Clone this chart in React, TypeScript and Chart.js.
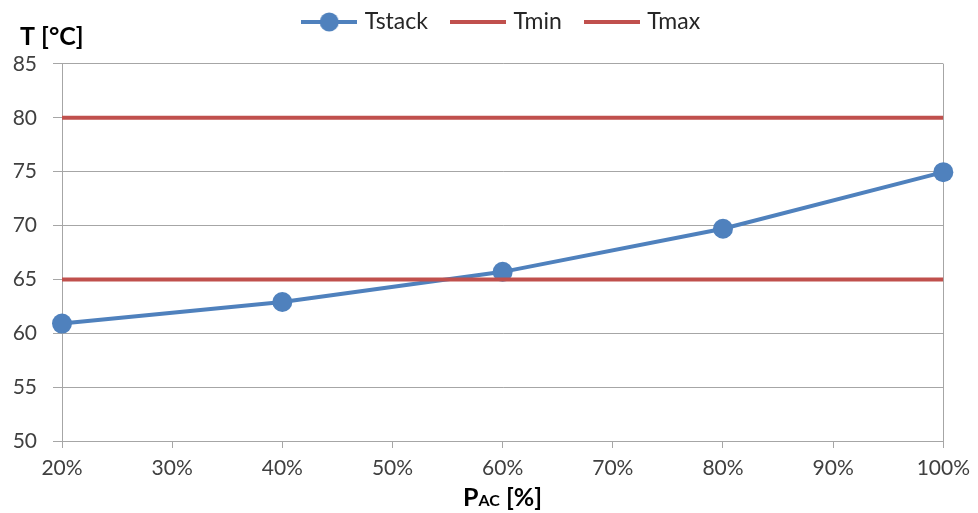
import React, { useEffect, useRef } from 'react';
import { Chart, registerables } from 'chart.js';

Chart.register(...registerables);

// ---- data ----
const loadPercent = [20, 40, 60, 80, 100];
const tstackValues = [60.9, 62.9, 65.7, 69.7, 74.95];
const tminValue = 65;
const tmaxValue = 80;
const xLimits = [20, 100];
const yLimits = [50, 85];
const seriesNames = ['Tstack', 'Tmin', 'Tmax'];
const yTitle = 'T [°C]';
const xTitleParts = ['P', 'AC', ' [%]'];

const BLUE = '#4F81BD';
const RED = '#C0504D';
const GRID = '#A6A6A6';
const FONT = 'Lato, "Open Sans", sans-serif';

function legendImage(color: string, dot: boolean) {
  const c = document.createElement('canvas');
  c.width = 56;
  c.height = 22;
  const ctx = c.getContext('2d')!;
  ctx.strokeStyle = color;
  ctx.lineWidth = 4;
  ctx.beginPath();
  ctx.moveTo(0, 11);
  ctx.lineTo(56, 11);
  ctx.stroke();
  if (dot) {
    ctx.fillStyle = color;
    ctx.beginPath();
    ctx.arc(28, 11, 9.5, 0, Math.PI * 2);
    ctx.fill();
  }
  return c;
}

const titlesPlugin = {
  id: 'titlesPlugin',
  afterDraw(chart: any) {
    const ctx = chart.ctx;
    const a = chart.chartArea;
    ctx.save();
    ctx.fillStyle = '#000';
    ctx.textBaseline = 'alphabetic';
    ctx.textAlign = 'left';
    ctx.font = `bold 25px ${FONT}`;
    ctx.fillText(yTitle, 20, 45);

    const big = `bold 25px ${FONT}`;
    const small = `bold 16px ${FONT}`;
    ctx.font = big;
    const w0 = ctx.measureText(xTitleParts[0]).width;
    const w2 = ctx.measureText(xTitleParts[2]).width;
    ctx.font = small;
    const w1 = ctx.measureText(xTitleParts[1]).width;
    const total = w0 + w1 + w2;
    let x = (a.left + a.right) / 2 - total / 2;
    const y = 506;
    ctx.font = big;
    ctx.fillText(xTitleParts[0], x, y);
    x += w0;
    ctx.font = small;
    ctx.fillText(xTitleParts[1], x, y);
    x += w1;
    ctx.font = big;
    ctx.fillText(xTitleParts[2], x, y);
    ctx.restore();
  },
};

export default function App() {
  const ref = useRef<HTMLCanvasElement | null>(null);

  useEffect(() => {
    if (!ref.current) return;
    const images = [legendImage(BLUE, true), legendImage(RED, false), legendImage(RED, false)];
    const chart = new Chart(ref.current, {
      type: 'line',
      data: {
        datasets: [
          {
            label: seriesNames[0],
            data: loadPercent.map((x, i) => ({ x, y: tstackValues[i] })),
            borderColor: BLUE,
            backgroundColor: BLUE,
            borderWidth: 4,
            pointRadius: 10,
            pointHoverRadius: 10,
            pointBackgroundColor: BLUE,
            pointBorderWidth: 0,
            tension: 0,
            clip: false as any,
            order: 2,
          },
          {
            label: seriesNames[1],
            data: xLimits.map((x) => ({ x, y: tminValue })),
            borderColor: RED,
            backgroundColor: RED,
            borderWidth: 4,
            pointRadius: 0,
            order: 1,
          },
          {
            label: seriesNames[2],
            data: xLimits.map((x) => ({ x, y: tmaxValue })),
            borderColor: RED,
            backgroundColor: RED,
            borderWidth: 4,
            pointRadius: 0,
            order: 1,
          },
        ],
      },
      options: {
        animation: false,
        responsive: false,
        devicePixelRatio: 1,
        layout: { padding: { top: -15.5, left: 0, right: 33, bottom: 0 } },
        plugins: {
          tooltip: { enabled: false },
          title: {
            display: true,
            text: ' ',
            padding: 0,
            weight: 500,
            fullSize: false,
            font: { size: 17, lineHeight: 1.2 },
          } as any,
          legend: {
            display: true,
            position: 'top',
            fullSize: false,
            labels: {
              usePointStyle: true,
              pointStyleWidth: 48,
              padding: 26,
              color: '#262626',
              font: { family: FONT, size: 23 },
              generateLabels: () =>
                seriesNames.map((name, i) => ({
                  text: name,
                  pointStyle: images[i] as any,
                  datasetIndex: i,
                  hidden: false,
                  fillStyle: 'transparent',
                  strokeStyle: 'transparent',
                  lineWidth: 0,
                  fontColor: '#262626',
                })),
            },
          },
        },
        scales: {
          x: {
            type: 'linear',
            min: xLimits[0],
            max: xLimits[1],
            afterFit: (s: any) => {
              s.height = 72;
            },
            ticks: {
              stepSize: 10,
              padding: 8,
              color: '#404040',
              font: { family: FONT, size: 21 },
              callback: (v: any) => `${v}%`,
              maxRotation: 0,
            },
            grid: {
              color: (c: any) => (c.tick && c.tick.value === xLimits[1] ? GRID : 'transparent'),
              tickColor: GRID,
              tickLength: 7,
              drawTicks: true,
            },
            border: { display: true, color: GRID, width: 1 },
          },
          y: {
            min: yLimits[0],
            max: yLimits[1],
            afterFit: (s: any) => {
              s.width = 62;
            },
            ticks: {
              stepSize: 5,
              padding: 16,
              color: '#404040',
              font: { family: FONT, size: 21 },
            },
            grid: {
              color: GRID,
              tickColor: GRID,
              tickLength: 9,
            },
            border: { display: true, color: GRID, width: 1 },
          },
        },
      },
      plugins: [titlesPlugin],
    });
    return () => chart.destroy();
  }, []);

  return (
    <div style={{ position: 'absolute', left: 0, top: 0, width: 978, height: 513, background: '#fff' }}>
      <canvas ref={ref} width={978} height={513} style={{ display: 'block' }} />
    </div>
  );
}
